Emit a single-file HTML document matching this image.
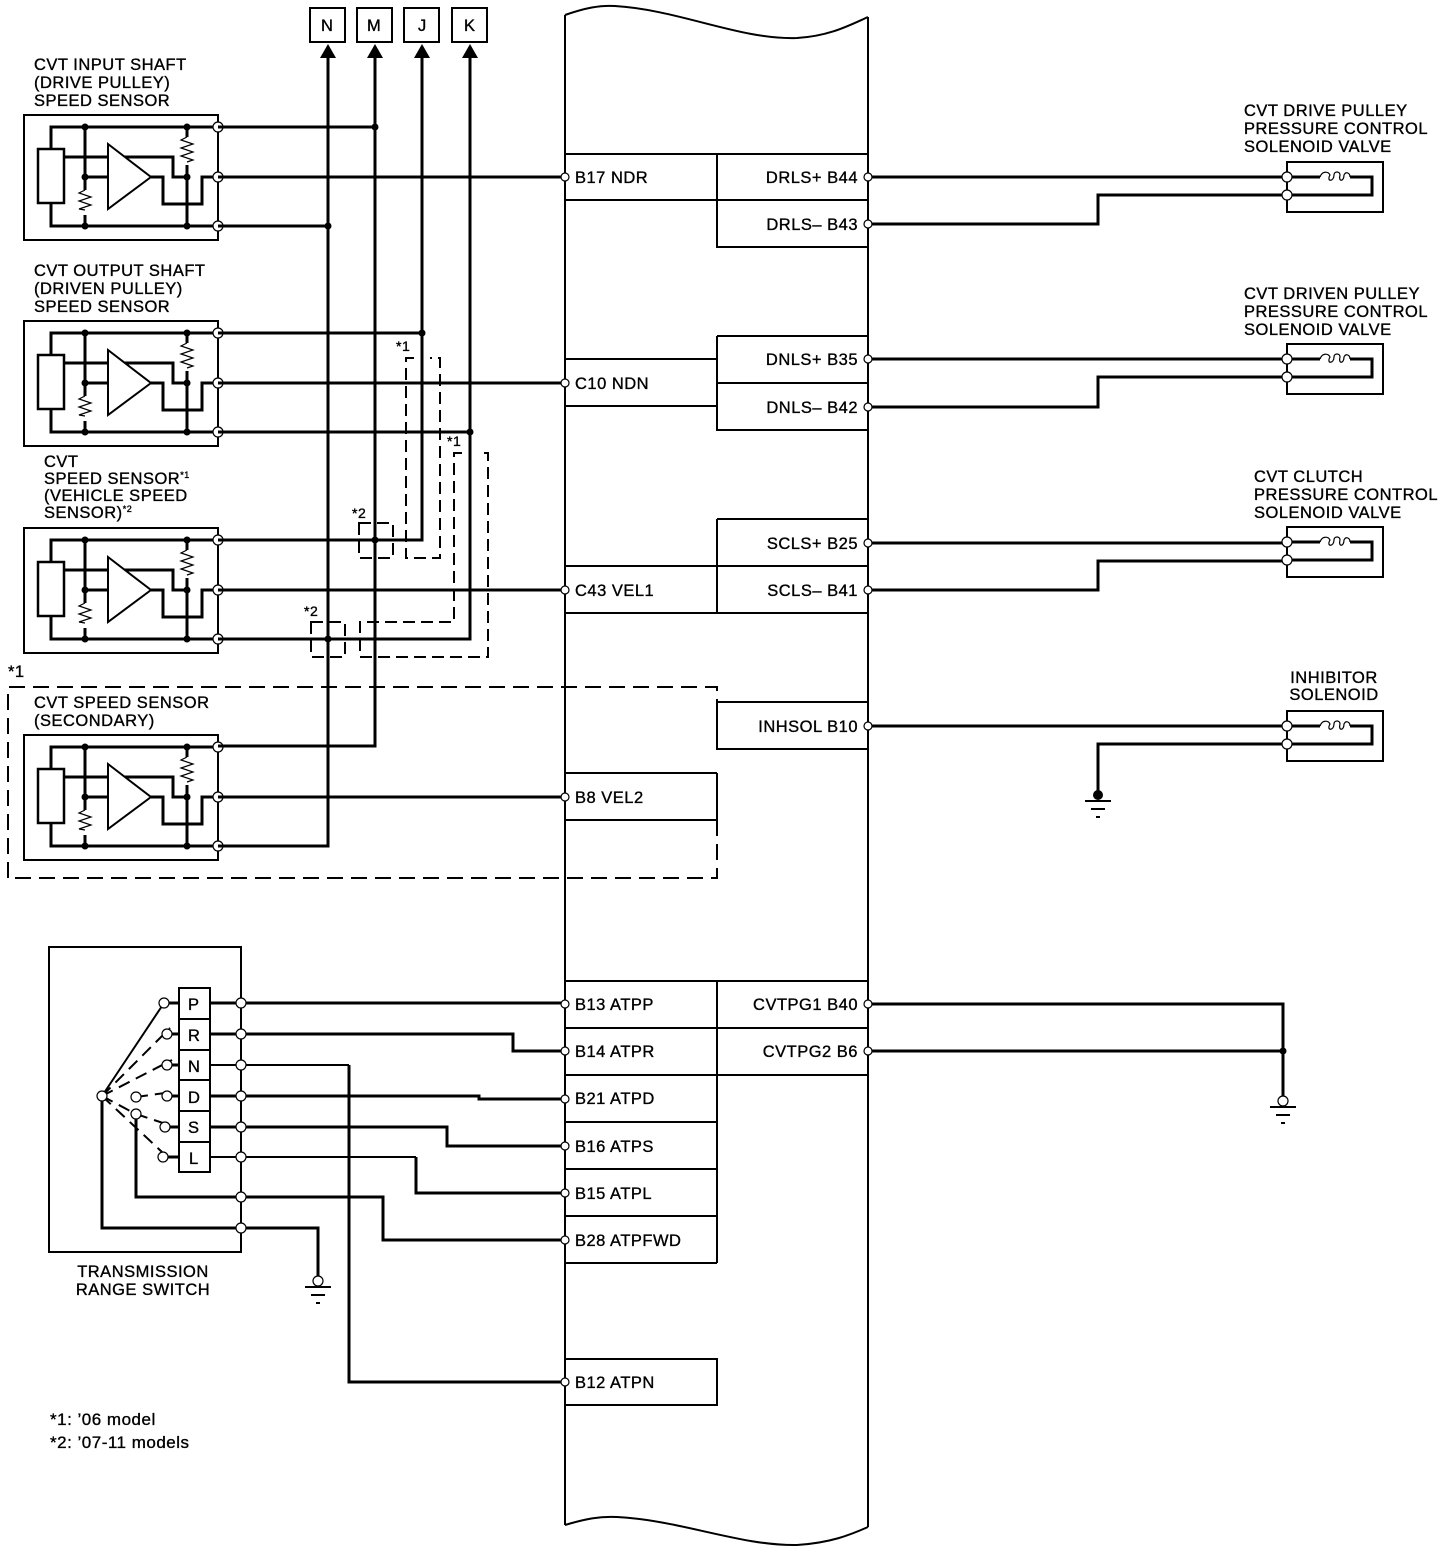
<!DOCTYPE html>
<html><head><meta charset="utf-8"><style>
html,body{margin:0;padding:0;background:#fff;}
svg{display:block;}
text{font-family:"Liberation Sans",Arial,sans-serif;font-size:16.5px;letter-spacing:0.5px;fill:#000;stroke:#000;stroke-width:0.35px;}
</style></head><body>
<svg width="1456" height="1556" viewBox="0 0 1456 1556" xmlns="http://www.w3.org/2000/svg">
<defs>
<g id="sensor">
  <rect x="24" y="115" width="194" height="125" fill="none" stroke="#000" stroke-width="2"/>
  <path d="M218,127 H51 V149 M51,203 V226 H218" fill="none" stroke="#000" stroke-width="3"/>
  <rect x="38" y="149" width="26" height="54" fill="#fff" stroke="#000" stroke-width="2.5"/>
  <path d="M85,127 V190 M85,215 V226" stroke="#000" stroke-width="3" fill="none"/>
  <path d="M85,190 l-6,3 l12,4 l-12,4 l12,4 l-12,4 l6,1" stroke="#000" stroke-width="1.2" fill="none"/>
  <path d="M187,127 V137 M187,165 V226" stroke="#000" stroke-width="3" fill="none"/>
  <path d="M187,137 l-6,3 l12,4 l-12,4 l12,4 l-12,4 l12,4 l-6,2" stroke="#000" stroke-width="1.2" fill="none"/>
  <path d="M85,177 H108 M64,157 H173 V177 H187 M151,177 H163 V204 H202 V177 H218" fill="none" stroke="#000" stroke-width="3"/>
  <polygon points="108,144 151,177 108,209" fill="#fff" stroke="#000" stroke-width="2"/>
  <circle cx="85" cy="127" r="3.5"/><circle cx="85" cy="177" r="3.5"/><circle cx="85" cy="226" r="3.5"/>
  <circle cx="187" cy="127" r="3.5"/><circle cx="187" cy="177" r="3.5"/><circle cx="187" cy="226" r="3.5"/>
  <circle cx="218" cy="127" r="5" fill="#fff" stroke="#000" stroke-width="1.2"/>
  <circle cx="218" cy="177" r="5" fill="#fff" stroke="#000" stroke-width="1.2"/>
  <circle cx="218" cy="226" r="5" fill="#fff" stroke="#000" stroke-width="1.2"/>
</g>
<g id="sol">
  <rect x="1287" y="162" width="96" height="50" fill="none" stroke="#000" stroke-width="2"/>
  <path d="M1287,177 H1320 M1350,177 H1372 V195 H1287" fill="none" stroke="#000" stroke-width="3"/>
  <path d="M1320,177 C1322,171 1328,171 1330,175 C1326,182 1334,182 1334,175 C1334,171 1340,171 1340,175 C1338,182 1344,182 1344,175 C1346,171 1350,173 1350,177" fill="none" stroke="#000" stroke-width="1.2"/>
  <circle cx="1287" cy="177" r="5" fill="#fff" stroke="#000" stroke-width="1.2"/>
  <circle cx="1287" cy="195" r="5" fill="#fff" stroke="#000" stroke-width="1.2"/>
</g>
</defs>

<g fill="none" stroke="#000" stroke-width="2">
  <path d="M565,15 C585,8 600,5 615,6 C680,10 740,40 797,38 C830,36 850,25 868,17"/>
  <path d="M565,1525 C585,1519 600,1516 617,1517 C680,1520 740,1546 797,1545 C830,1543 850,1535 868,1527"/>
  <line x1="565" y1="15" x2="565" y2="1525"/>
  <line x1="868" y1="17" x2="868" y2="1527"/>
  <path d="M565,154 H868 M565,200 H868 M717,154 V247 H868"/>
  <path d="M717,336 H868 M565,359 H717 M565,406 H717 M717,383 H868 M717,336 V430 H868"/>
  <path d="M717,519 H868 M565,566 H868 M565,613 H868 M717,519 V613"/>
  <path d="M717,702 H868 M717,702 V749 H868"/>
  <path d="M565,773 H717 M565,820 H717 M717,773 V820"/>
  <path d="M565,981 H868 M565,1028 H868 M565,1075 H868 M717,981 V1263 M565,1122 H717 M565,1169 H717 M565,1216 H717 M565,1263 H717"/>
  <path d="M565,1359 H717 V1405 H565"/>
</g>
<g fill="none" stroke="#000" stroke-width="2" stroke-dasharray="16,8">
  <path d="M8,878 V687 H717 V702"/>
  <path d="M717,820 V878 H8"/>
</g>
<text x="8" y="677">*1</text>

<g fill="none" stroke="#000" stroke-width="2">
  <rect x="310" y="8" width="35" height="34"/><rect x="357" y="8" width="35" height="34"/>
  <rect x="404" y="8" width="35" height="34"/><rect x="452" y="8" width="35" height="34"/>
</g>
<text x="321" y="31">N</text><text x="367" y="31">M</text><text x="418" y="31">J</text><text x="464" y="31">K</text>
<g fill="#000">
  <polygon points="328,44 320,58 336,58"/><polygon points="375,44 367,58 383,58"/>
  <polygon points="422,44 414,58 430,58"/><polygon points="470,44 462,58 478,58"/>
</g>

<use href="#sensor"/>
<use href="#sensor" transform="translate(0,206)"/>
<use href="#sensor" transform="translate(0,413)"/>
<use href="#sensor" transform="translate(0,620)"/>

<g fill="none" stroke="#000" stroke-width="3">
  <path d="M328,56 V846 H218"/>
  <path d="M375,56 V746 H218"/>
  <path d="M422,56 V540 H218"/>
  <path d="M470,56 V639 H218"/>
  <path d="M218,127 H375"/>
  <path d="M218,226 H328"/>
  <path d="M218,177 H561"/>
  <path d="M218,333 H422"/>
  <path d="M218,383 H561"/>
  <path d="M218,432 H470"/>
  <path d="M218,590 H561"/>
  <path d="M218,797 H561"/>
  <path d="M872,177 H1287"/>
  <path d="M872,224 H1098 V195 H1287"/>
  <path d="M872,359 H1287"/>
  <path d="M872,407 H1098 V377 H1287"/>
  <path d="M872,543 H1287"/>
  <path d="M872,590 H1098 V561 H1287"/>
  <path d="M872,726 H1287"/>
  <path d="M1287,744 H1098 V795"/>
  <path d="M872,1004 H1283 V1100"/>
  <path d="M872,1051 H1283"/>
</g>
<g fill="#000">
  <circle cx="375" cy="127" r="3.5"/><circle cx="328" cy="226" r="3.5"/>
  <circle cx="422" cy="333" r="3.5"/><circle cx="470" cy="432" r="3.5"/>
  <circle cx="375" cy="540" r="3.5"/><circle cx="328" cy="639" r="3.5"/>
  <circle cx="1283" cy="1051" r="3.5"/>
</g>
<g fill="none" stroke="#000" stroke-width="2" stroke-dasharray="12,6">
  <path d="M414,358 H406 V558 H440 V358 H430"/>
  <path d="M462,453 H454 V622 H360 V657 H488 V453 H478"/>
  <rect x="359" y="523" width="34" height="35"/>
  <rect x="311" y="622" width="34" height="35"/>
</g>
<text x="396" y="351" style="font-size:14px">*1</text>
<text x="447" y="446" style="font-size:14px">*1</text>
<text x="352" y="518" style="font-size:14px">*2</text>
<text x="304" y="616" style="font-size:14px">*2</text>

<use href="#sol"/>
<use href="#sol" transform="translate(0,182)"/>
<use href="#sol" transform="translate(0,365)"/>
<use href="#sol" transform="translate(0,549)"/>

<circle cx="1098" cy="795" r="5"/>
<g stroke="#000" stroke-width="2">
  <line x1="1085" y1="801" x2="1111" y2="801"/><line x1="1091" y1="809" x2="1105" y2="809"/><line x1="1096" y1="817" x2="1100" y2="817"/>
  <line x1="1270" y1="1107" x2="1296" y2="1107"/><line x1="1276" y1="1115" x2="1290" y2="1115"/><line x1="1281" y1="1123" x2="1285" y2="1123"/>
  <line x1="305" y1="1287" x2="331" y2="1287"/><line x1="311" y1="1295" x2="325" y2="1295"/><line x1="316" y1="1303" x2="320" y2="1303"/>
</g>
<circle cx="1283" cy="1101" r="5" fill="#fff" stroke="#000" stroke-width="1.2"/>
<circle cx="318" cy="1281" r="5" fill="#fff" stroke="#000" stroke-width="1.2"/>

<rect x="49" y="947" width="192" height="305" fill="none" stroke="#000" stroke-width="2"/>
<g fill="none" stroke="#000" stroke-width="3">
  <path d="M168,1003 H179 M171,1034 H179 M171,1065 H179 M171,1096 H179 M169,1127 H179 M167,1157 H179"/>
  <path d="M210,1003 H561"/>
  <path d="M210,1034 H513 V1051 H561"/>
  <path d="M210,1096 H479 V1099 H561"/>
  <path d="M210,1127 H447 V1146 H561"/>
  <path d="M349,1065 V1382 H561"/>
  <path d="M416,1157 V1193 H561"/>
  <path d="M136,1114 V1197 H383 V1240 H561"/>
  <path d="M102,1096 V1228 H318 V1276"/>
</g>
<g fill="none" stroke="#000" stroke-width="2">
  <path d="M210,1065 H349 M210,1157 H416"/>
  <line x1="241" y1="947" x2="241" y2="1252"/>
  <line x1="102" y1="1096" x2="162" y2="1006"/>
  <rect x="179" y="988" width="31" height="184" fill="#fff"/>
  <path d="M179,1019 H210 M179,1050 H210 M179,1080 H210 M179,1111 H210 M179,1142 H210"/>
</g>
<text x="188" y="1010">P</text><text x="188" y="1041">R</text><text x="188" y="1072">N</text>
<text x="188" y="1103">D</text><text x="188" y="1133">S</text><text x="189" y="1164">L</text>
<g fill="none" stroke="#000" stroke-width="2" stroke-dasharray="12,7">
  <line x1="102" y1="1096" x2="170" y2="1028"/>
  <line x1="102" y1="1096" x2="172" y2="1060"/>
  <line x1="136" y1="1097" x2="172" y2="1092"/>
  <line x1="136" y1="1114" x2="172" y2="1126"/>
  <line x1="102" y1="1096" x2="162" y2="1152"/>
  <line x1="102" y1="1096" x2="132" y2="1112"/>
</g>
<g fill="#fff" stroke="#000" stroke-width="1.2">
  <circle cx="102" cy="1096" r="5"/><circle cx="136" cy="1097" r="5"/><circle cx="136" cy="1114" r="5"/>
  <circle cx="164" cy="1003" r="5"/><circle cx="167" cy="1034" r="5"/><circle cx="167" cy="1065" r="5"/>
  <circle cx="167" cy="1096" r="5"/><circle cx="165" cy="1127" r="5"/><circle cx="163" cy="1157" r="5"/>
  <circle cx="241" cy="1003" r="5"/><circle cx="241" cy="1034" r="5"/><circle cx="241" cy="1065" r="5"/>
  <circle cx="241" cy="1096" r="5"/><circle cx="241" cy="1127" r="5"/><circle cx="241" cy="1157" r="5"/>
  <circle cx="241" cy="1197" r="5"/><circle cx="241" cy="1228" r="5"/>
</g>

<g fill="#fff" stroke="#000" stroke-width="1.2">
  <circle cx="565" cy="177" r="4"/><circle cx="565" cy="383" r="4"/><circle cx="565" cy="590" r="4"/>
  <circle cx="565" cy="797" r="4"/><circle cx="565" cy="1004" r="4"/><circle cx="565" cy="1051" r="4"/>
  <circle cx="565" cy="1099" r="4"/><circle cx="565" cy="1146" r="4"/><circle cx="565" cy="1193" r="4"/>
  <circle cx="565" cy="1240" r="4"/><circle cx="565" cy="1382" r="4"/>
  <circle cx="868" cy="177" r="4"/><circle cx="868" cy="224" r="4"/><circle cx="868" cy="359" r="4"/>
  <circle cx="868" cy="407" r="4"/><circle cx="868" cy="543" r="4"/><circle cx="868" cy="590" r="4"/>
  <circle cx="868" cy="726" r="4"/><circle cx="868" cy="1004" r="4"/><circle cx="868" cy="1051" r="4"/>
</g>
<g>
  <text x="575" y="183">B17 NDR</text><text x="575" y="389">C10 NDN</text><text x="575" y="596">C43 VEL1</text>
  <text x="575" y="803">B8 VEL2</text><text x="575" y="1010">B13 ATPP</text><text x="575" y="1057">B14 ATPR</text>
  <text x="575" y="1104">B21 ATPD</text><text x="575" y="1152">B16 ATPS</text><text x="575" y="1199">B15 ATPL</text>
  <text x="575" y="1246">B28 ATPFWD</text><text x="575" y="1388">B12 ATPN</text>
</g>
<g text-anchor="end">
  <text x="858" y="183">DRLS+ B44</text><text x="858" y="230">DRLS– B43</text>
  <text x="858" y="365">DNLS+ B35</text><text x="858" y="413">DNLS– B42</text>
  <text x="858" y="549">SCLS+ B25</text><text x="858" y="596">SCLS– B41</text>
  <text x="858" y="732">INHSOL B10</text>
  <text x="858" y="1010">CVTPG1 B40</text><text x="858" y="1057">CVTPG2 B6</text>
</g>

<text x="34" y="70">CVT INPUT SHAFT</text><text x="34" y="88">(DRIVE PULLEY)</text><text x="34" y="106">SPEED SENSOR</text>
<text x="34" y="276">CVT OUTPUT SHAFT</text><text x="34" y="294">(DRIVEN PULLEY)</text><text x="34" y="312">SPEED SENSOR</text>
<text x="44" y="467">CVT</text>
<text x="44" y="484">SPEED SENSOR<tspan dy="-6" style="font-size:9px">*1</tspan></text>
<text x="44" y="501">(VEHICLE SPEED</text>
<text x="44" y="518">SENSOR)<tspan dy="-6" style="font-size:9px">*2</tspan></text>
<text x="34" y="708">CVT SPEED SENSOR</text><text x="34" y="726">(SECONDARY)</text>
<text x="1244" y="116">CVT DRIVE PULLEY</text><text x="1244" y="134">PRESSURE CONTROL</text><text x="1244" y="152">SOLENOID VALVE</text>
<text x="1244" y="299">CVT DRIVEN PULLEY</text><text x="1244" y="317">PRESSURE CONTROL</text><text x="1244" y="335">SOLENOID VALVE</text>
<text x="1254" y="482">CVT CLUTCH</text><text x="1254" y="500">PRESSURE CONTROL</text><text x="1254" y="518">SOLENOID VALVE</text>
<text x="1334" y="683" text-anchor="middle">INHIBITOR</text><text x="1334" y="700" text-anchor="middle">SOLENOID</text>
<text x="143" y="1277" text-anchor="middle">TRANSMISSION</text><text x="143" y="1295" text-anchor="middle">RANGE SWITCH</text>
<text x="50" y="1425" style="font-size:17px">*1: ’06 model</text>
<text x="50" y="1448" style="font-size:17px">*2: ’07-11 models</text>
</svg>
</body></html>
